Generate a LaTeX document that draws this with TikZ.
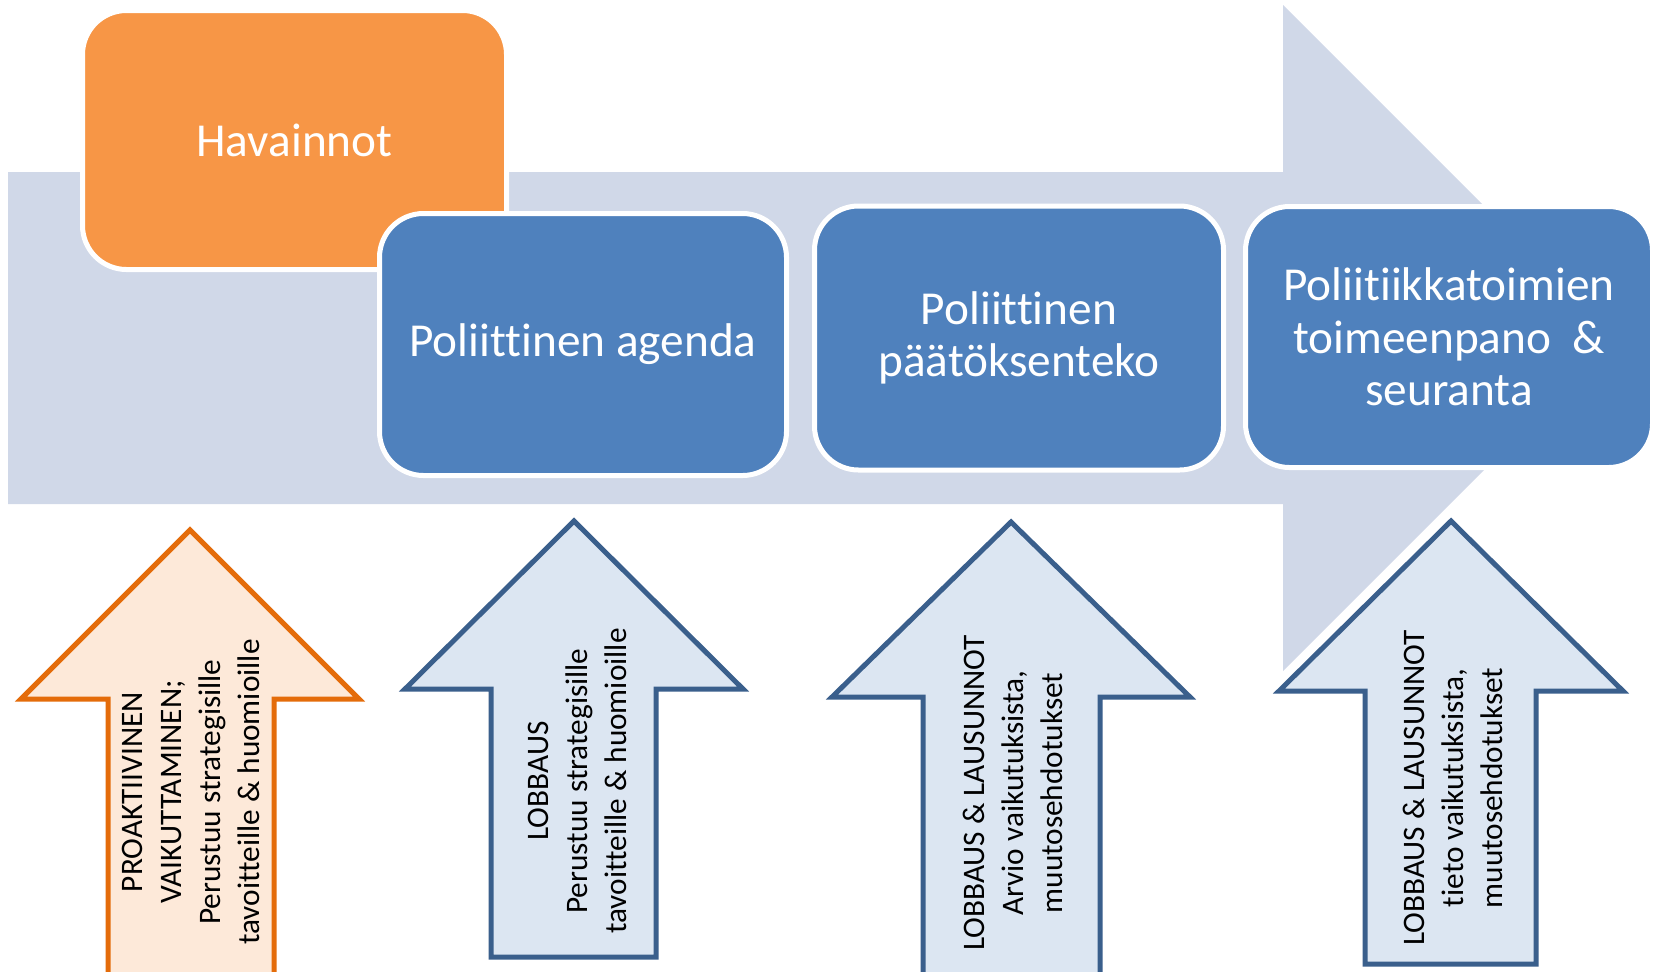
\documentclass[tikz,border=0pt]{standalone}
\usepackage{fontspec}
\setmainfont[Ligatures=NoCommon]{Carlito}
\definecolor{bgarrow}{HTML}{D0D8E8}
\definecolor{orangebox}{HTML}{F79646}
\definecolor{bluebox}{HTML}{4F81BD}
\definecolor{orangefill}{HTML}{FDE9D9}
\definecolor{orangeline}{HTML}{E46C0A}
\definecolor{bluefill}{HTML}{DCE6F2}
\definecolor{blueline}{HTML}{3A5F8C}
\begin{document}
\begin{tikzpicture}[x=0.5pt,y=-0.5pt,
  boxbase/.style={rectangle, rounded corners=22pt, draw=white, line width=2.5pt,
    text=white, align=center, font=\fontsize{23.65}{26.25}\selectfont, inner sep=0pt},
  obox/.style={boxbase, fill=orangebox},
  bbox/.style={boxbase, fill=bluebox},
  halo/.style={draw=white, line width=7.5pt, line join=miter},
  oarrow/.style={fill=orangefill, draw=orangeline, line width=2.5pt, line join=miter},
  barrow/.style={fill=bluefill, draw=blueline, line width=2.5pt, line join=miter},
  atext/.style={rotate=90, align=center, text=black, inner sep=0pt,
    font=\fontsize{15.65}{19.5}\selectfont}]
\useasboundingbox (0,0) rectangle (1658,971);
\clip (0,0) rectangle (1658,971);

% background process arrow
\fill[bgarrow] (8,172) -- (1283,172) -- (1283,5) -- (1616,338) -- (1283,671)
  -- (1283,504) -- (8,504) -- cycle;

% process boxes
\node[obox, minimum width=212pt, minimum height=129.5pt] (hav) at (294.5,140) {Havainnot};
\node[bbox, minimum width=203.5pt, minimum height=131pt] (agenda) at (583,344.5) {Poliittinen agenda};
\node[bbox, minimum width=204.5pt, minimum height=132pt] (paatos) at (1019,338) {Poliittinen\\päätöksenteko};
\node[bbox, minimum width=203.5pt, minimum height=130.5pt] (toimeen) at (1449,337) {Poliitiikkatoimien\\toimeenpano\ \ \&\\seuranta};

% upward arrows
\draw[halo] (108,985) -- (108,699) -- (21,699) -- (190,530) -- (359,699) -- (274,699) -- (274,985);
\draw[oarrow] (108,985) -- (108,699) -- (21,699) -- (190,530) -- (359,699) -- (274,699) -- (274,985) -- cycle;

\draw[halo] (491,957) -- (491,689) -- (405,689) -- (574,521) -- (743,689) -- (656,689) -- (656,957) -- cycle;
\draw[barrow] (491,957) -- (491,689) -- (405,689) -- (574,521) -- (743,689) -- (656,689) -- (656,957) -- cycle;

\draw[halo] (923,985) -- (923,697) -- (832,697) -- (1011,522) -- (1190,697) -- (1100,697) -- (1100,985);
\draw[barrow] (923,985) -- (923,697) -- (832,697) -- (1011,522) -- (1190,697) -- (1100,697) -- (1100,985) -- cycle;

\draw[halo] (1365,964) -- (1365,691) -- (1279,691) -- (1451,521) -- (1623,691) -- (1536,691) -- (1536,964) -- cycle;
\draw[barrow] (1365,964) -- (1365,691) -- (1279,691) -- (1451,521) -- (1623,691) -- (1536,691) -- (1536,964) -- cycle;

% arrow texts
\node[atext] (t1) at (191,792) {PROAKTIIVINEN\\VAIKUTTAMINEN;\\Perustuu strategisille\\tavoitteille \& huomioille};
\node[atext] (t2) at (577,781) {LOBBAUS\\Perustuu strategisille\\tavoitteille \& huomioille};
\node[atext] (t3) at (1013,793) {LOBBAUS \& LAUSUNNOT\\Arvio vaikutuksista,\\muutosehdotukset};
\node[atext] (t4) at (1453,788) {LOBBAUS \& LAUSUNNOT\\tieto vaikutuksista,\\muutosehdotukset};
\end{tikzpicture}
\end{document}
